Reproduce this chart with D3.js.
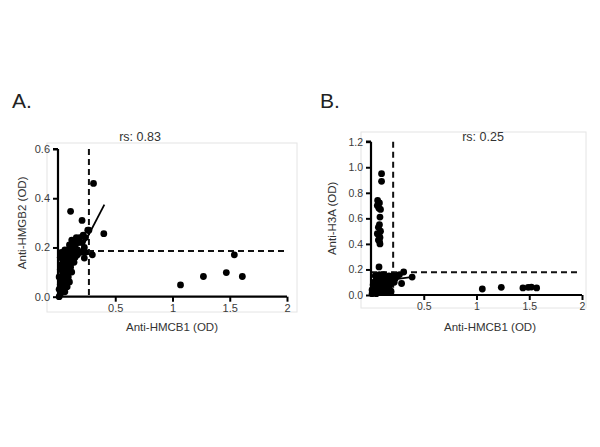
<!DOCTYPE html>
<html>
<head>
<meta charset="utf-8">
<script src="https://cdn.jsdelivr.net/npm/d3@7"></script>
<style>
  body { margin: 0; background: #fff; }
  svg { display: block; font-family: "Liberation Sans", Arial, sans-serif; }
</style>
</head>
<body>
<svg id="chart" width="600" height="447"></svg>
<script>
// Panel A: anti-HMGB1 vs anti-HMGB2 (OD)
const hmgb1A = [0.01,0.02,0.01,0.03,0.02,0.04,0.03,0.05,0.01,0.04,0.06,0.02,0.05,0.07,0.03,0.06,0.08,0.04,0.07,0.09,
  0.05,0.08,0.10,0.06,0.09,0.11,0.12,0.10,0.13,0.14,0.12,0.15,0.16,0.18,0.17,0.19,0.21,0.20,0.22,0.24,
  0.23,0.26,0.02,0.08,0.10,0.06,0.12,0.14,0.11,0.15,0.17,0.13,0.09,0.07,0.03,
  0.31,0.11,0.21,0.40,0.23,0.27,0.30,0.24,
  1.07,1.27,1.47,1.61,1.54];
const hmgb2A = [0.00,0.01,0.03,0.02,0.05,0.03,0.07,0.05,0.08,0.09,0.07,0.11,0.11,0.09,0.13,0.13,0.11,0.15,0.15,0.13,
  0.17,0.17,0.15,0.19,0.19,0.17,0.20,0.21,0.18,0.22,0.23,0.20,0.24,0.22,0.19,0.24,0.22,0.18,0.25,0.24,
  0.20,0.27,0.16,0.04,0.06,0.02,0.10,0.14,0.12,0.16,0.17,0.15,0.08,0.05,0.18,
  0.46,0.347,0.31,0.256,0.157,0.27,0.17,0.18,
  0.048,0.082,0.098,0.082,0.17];

// Panel B: anti-HMGB1 vs anti-H3A (OD)
const hmgb1B = [0.01,0.03,0.05,0.07,0.09,0.11,0.13,0.15,0.17,0.19,0.02,0.04,0.06,0.08,0.10,0.12,0.14,0.16,0.18,0.20,
  0.03,0.05,0.07,0.09,0.11,0.13,0.15,0.17,0.19,0.21,0.23,0.25,0.04,0.06,0.08,0.10,0.12,0.14,0.16,0.18,
  0.22,0.076,0.31,0.39,0.29,0.27,0.02,0.01,
  0.10,0.10,0.063,0.08,0.06,0.09,0.075,0.085,0.08,0.07,0.09,0.06,0.075,0.085,0.07,0.08,0.085,
  1.055,1.235,1.44,1.49,1.52,1.57];
const h3aB = [0.01,0.02,0.01,0.03,0.02,0.04,0.02,0.03,0.05,0.03,0.05,0.07,0.05,0.08,0.06,0.09,0.07,0.10,0.08,0.11,
  0.10,0.12,0.11,0.13,0.12,0.14,0.13,0.15,0.14,0.15,0.13,0.15,0.15,0.14,0.16,0.15,0.16,0.11,0.06,0.12,
  0.10,0.22,0.18,0.14,0.09,0.16,0.08,0.04,
  0.95,0.89,0.74,0.72,0.70,0.67,0.68,0.61,0.55,0.53,0.50,0.48,0.47,0.45,0.43,0.42,0.40,
  0.047,0.06,0.055,0.06,0.062,0.055];

const xTicks = [0.5, 1, 1.5, 2];
const yTicksA = [0, 0.2, 0.4, 0.6];
const yTicksB = [0, 0.2, 0.4, 0.6, 0.8, 1.0, 1.2];

const panels = [
  {
    letter: 'A.', letterX: 12, title: 'rs: 0.83', titleX: 140,
    xs: hmgb1A, ys: hmgb2A, yMax: 0.6, yTicks: yTicksA,
    xRange: [58, 287], yRange: [296.7, 149], tickFont: 11,
    cutX: 0.27, cutY: 0.186, cutYEnd: 2,
    fit: [[0.02, 0.03], [0.405, 0.374]],
    yLabel: 'Anti-HMGB2 (OD)', yLabelX: 22, xLabel: 'Anti-HMCB1 (OD)', xLabelX: 172,
    frame: [47, 143, 297, 312]
  },
  {
    letter: 'B.', letterX: 320, title: 'rs: 0.25', titleX: 483,
    xs: hmgb1B, ys: h3aB, yMax: 1.2, yTicks: yTicksB,
    xRange: [371, 582], yRange: [295, 141.7], tickFont: 10.5,
    cutX: 0.21, cutY: 0.178, cutYEnd: 1.97,
    fit: [[0.02, 0.10], [0.38, 0.14]],
    yLabel: 'Anti-H3A (OD)', yLabelX: 332, xLabel: 'Anti-HMCB1 (OD)', xLabelX: 490,
    frame: [361, 132, 586, 308]
  }
];

const svg = d3.select('#chart');

panels.forEach(p => {
  const x = d3.scaleLinear().domain([0, 2]).range(p.xRange);
  const y = d3.scaleLinear().domain([0, p.yMax]).range(p.yRange);
  const g = svg.append('g');

  // faint plot frame
  g.append('rect')
    .attr('x', p.frame[0]).attr('y', p.frame[1])
    .attr('width', p.frame[2] - p.frame[0]).attr('height', p.frame[3] - p.frame[1])
    .attr('fill', 'none').attr('stroke', '#e4e4e4').attr('stroke-width', 1);

  g.append('text')
    .attr('x', p.letterX).attr('y', 108)
    .attr('font-size', 21).attr('fill', '#222')
    .text(p.letter);

  g.append('text')
    .attr('x', p.titleX).attr('y', 141)
    .attr('text-anchor', 'middle').attr('font-size', 12.5).attr('fill', '#333')
    .text(p.title);

  // cut-off lines
  g.append('line')
    .attr('x1', x(p.cutX)).attr('x2', x(p.cutX))
    .attr('y1', y(p.yMax)).attr('y2', y(0))
    .attr('stroke', '#111').attr('stroke-width', 2).attr('stroke-dasharray', '6,4');
  g.append('line')
    .attr('x1', x(0)).attr('x2', x(p.cutYEnd))
    .attr('y1', y(p.cutY)).attr('y2', y(p.cutY))
    .attr('stroke', '#111').attr('stroke-width', 2).attr('stroke-dasharray', '6,4');

  // points
  g.selectAll('circle')
    .data(p.xs.map((v, i) => [v, p.ys[i]]))
    .join('circle')
    .attr('cx', d => x(d[0])).attr('cy', d => y(d[1]))
    .attr('r', 3.4).attr('fill', '#000');

  // regression line
  g.append('line')
    .attr('x1', x(p.fit[0][0])).attr('y1', y(p.fit[0][1]))
    .attr('x2', x(p.fit[1][0])).attr('y2', y(p.fit[1][1]))
    .attr('stroke', '#000').attr('stroke-width', 1.8);

  // axes
  const xAxis = g.append('g')
    .attr('transform', `translate(0,${y(0)})`)
    .call(d3.axisBottom(x).tickValues(xTicks).tickSize(5).tickFormat(d3.format('')));
  const yAxis = g.append('g')
    .attr('transform', `translate(${x(0)},0)`)
    .call(d3.axisLeft(y).tickValues(p.yTicks).tickSize(5).tickFormat(d3.format('.1f')));

  [xAxis, yAxis].forEach(a => {
    a.select('.domain').attr('stroke', '#000').attr('stroke-width', 2.2);
    a.selectAll('.tick line').attr('stroke', '#000').attr('stroke-width', 2);
    a.selectAll('.tick text')
      .attr('fill', '#3a3a3a').attr('font-size', p.tickFont)
      .attr('font-family', '"Liberation Sans", Arial, sans-serif');
  });
  xAxis.select('.domain').attr('d', `M${x(0)},0H${x(2)}`);
  yAxis.select('.domain').attr('d', `M0,${y(p.yMax)}H-5M0,${y(p.yMax)}V${y(0)}`);

  g.append('text')
    .attr('x', p.xLabelX).attr('y', 331)
    .attr('text-anchor', 'middle').attr('font-size', 11.5).attr('fill', '#333')
    .text(p.xLabel);

  g.append('text')
    .attr('transform', `translate(${p.yLabelX},${(p.yRange[0] + p.yRange[1]) / 2}) rotate(-90)`)
    .attr('text-anchor', 'middle').attr('dy', '0.35em').attr('font-size', 11.5).attr('fill', '#333')
    .text(p.yLabel);
});
</script>
</body>
</html>
